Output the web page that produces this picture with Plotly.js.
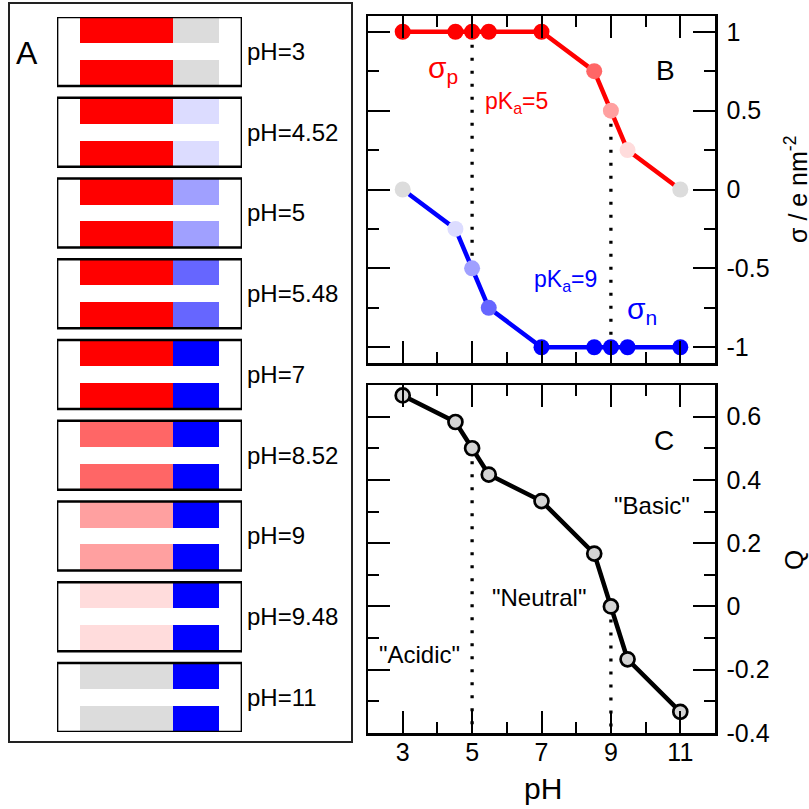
<!DOCTYPE html>
<html><head><meta charset="utf-8">
<script src="https://cdn.plot.ly/plotly-3.0.1.min.js"></script>
<style>html,body{margin:0;padding:0;background:#fff}#chart{width:809px;height:809px}</style>
</head><body><div id="chart"></div>
<script>
// ---- data ----
const pH = [3, 4.52, 5, 5.48, 7, 8.52, 9, 9.48, 11];
const sigmaP = [1, 1, 1, 1, 1, 0.75, 0.5, 0.25, 0];
const sigmaN = [0, -0.25, -0.5, -0.75, -1, -1, -1, -1, -1];
const netQ = [0.667, 0.583, 0.5, 0.417, 0.333, 0.167, 0, -0.167, -0.333];
const stateLabels = ['pH=3','pH=4.52','pH=5','pH=5.48','pH=7','pH=8.52','pH=9','pH=9.48','pH=11'];
const posColors = ['#ff0000','#ff0000','#ff0000','#ff0000','#ff0000','#ff6666','#ffa0a0','#ffdcdc','#dcdcdc'];
const negColors = ['#dcdcdc','#dcdcff','#a0a0ff','#6666ff','#0000ff','#0000ff','#0000ff','#0000ff','#0000ff'];
const posShare = 2, negShare = 1;
const pKa = [5, 9];
const pKaTopB = [1, 0.5], pKaBotB = [-0.5, -1];
const pKaTopC = [0.5, 0], pKaBotC = [-0.4, -0.4];
const xTickVals = [3,5,7,9,11], xTickText = ['3','5','7','9','11'], xMinor = [4,6,8,10];
const bTickVals = [-1,-0.5,0,0.5,1], bTickText = ['-1','-0.5','0','0.5','1'], bMinor = [-0.75,-0.25,0.25,0.75];
const cTickVals = [-0.4,-0.2,0,0.2,0.4,0.6], cTickText = ['-0.4','-0.2','0','0.2','0.4','0.6'], cMinor = [-0.3,-0.1,0.1,0.3,0.5];

// ---- layout helpers ----
const W = 809;
const px = v => v / W, py = v => 1 - v / W;
const FONT = 'Liberation Sans, Arial, Helvetica, sans-serif';

const rowOff = 0.266, rowThick = 0.322, boxThick = 0.8545, boxPad = 0.5;
const rowY = [], rowPos = [], rowNeg = [];
pH.forEach((v, i) => {
  [i - rowOff, i + rowOff].forEach(y => { rowY.push(y); rowPos.push(posColors[i]); rowNeg.push(negColors[i]); });
});
const boxY = pH.map((v, i) => i);

function vlines(xs, tops, bots) {
  const x = [], y = [];
  xs.forEach((v, i) => { x.push(v, v, null); y.push(tops[i], bots[i], null); });
  return {x, y};
}
const dB = vlines(pKa, pKaTopB, pKaBotB);
const dC = vlines(pKa, pKaTopC, pKaBotC);
const dotLine = {color:'#000', width:3.3, dash:'3px,10px'};

const traces = [
  {type:'bar', orientation:'h', xaxis:'x3', yaxis:'y3', y:rowY, x:rowY.map(() => posShare), base:0,
   width:rowThick, marker:{color:rowPos, line:{width:0}}, hoverinfo:'skip'},
  {type:'bar', orientation:'h', xaxis:'x3', yaxis:'y3', y:rowY, x:rowY.map(() => negShare), base:posShare,
   width:rowThick, marker:{color:rowNeg, line:{width:0}}, hoverinfo:'skip'},
  {type:'bar', orientation:'h', xaxis:'x3', yaxis:'y3', y:boxY, x:boxY.map(() => posShare + negShare + 2*boxPad), base:-boxPad,
   width:boxThick, marker:{color:'rgba(0,0,0,0)', line:{color:'#000', width:2.7}}, hoverinfo:'skip'},

  {type:'scatter', mode:'lines', xaxis:'x2', yaxis:'y2', x:dB.x, y:dB.y, line:dotLine, hoverinfo:'skip'},
  {type:'scatter', mode:'lines+markers', xaxis:'x2', yaxis:'y2', x:pH, y:sigmaP, cliponaxis:false,
   line:{color:'#ff0000', width:4.5}, marker:{size:16, color:posColors, line:{width:0}}},
  {type:'scatter', mode:'lines+markers', xaxis:'x2', yaxis:'y2', x:pH, y:sigmaN, cliponaxis:false,
   line:{color:'#0000ff', width:4.5}, marker:{size:16, color:negColors, line:{width:0}}},

  {type:'scatter', mode:'lines', xaxis:'x', yaxis:'y', x:dC.x, y:dC.y, line:dotLine, hoverinfo:'skip'},
  {type:'scatter', mode:'lines+markers', xaxis:'x', yaxis:'y', x:pH, y:netQ, cliponaxis:false,
   line:{color:'#000', width:4.5}, marker:{size:14, color:'#d4d4d4', line:{color:'#000', width:2.7}}}
];

const common = {showline:true, linecolor:'#000', linewidth:2.5, mirror:'ticks', ticks:'inside', ticklen:22,
  tickwidth:2, tickcolor:'#000', showgrid:false, zeroline:false, tickmode:'array',
  tickfont:{family:FONT, size:25, color:'#000'}};
const minorCommon = {ticks:'inside', ticklen:11, tickwidth:2, tickcolor:'#000', tickmode:'array'};

function ann(o) { return Object.assign({showarrow:false, xanchor:'center', yanchor:'middle'}, o); }

const layout = {
  width:809, height:809, margin:{l:0, r:0, t:0, b:0}, showlegend:false,
  paper_bgcolor:'#fff', plot_bgcolor:'rgba(0,0,0,0)', barmode:'overlay', bargap:0,
  font:{family:FONT, color:'#000'},
  xaxis:Object.assign({}, common, {domain:[px(368), px(715)], range:[2,12], anchor:'y',
    tickvals:xTickVals, ticktext:xTickText, minor:Object.assign({tickvals:xMinor}, minorCommon), ticklabelstandoff:-5}),
  xaxis2:Object.assign({}, common, {domain:[px(368), px(715)], range:[2,12], anchor:'y2', showticklabels:false,
    tickvals:xTickVals, ticktext:xTickText, minor:Object.assign({tickvals:xMinor}, minorCommon)}),
  yaxis:Object.assign({}, common, {domain:[py(733), py(385)], range:[-0.4,0.7], anchor:'x', side:'right',
    tickvals:cTickVals, ticktext:cTickText, minor:Object.assign({tickvals:cMinor}, minorCommon), ticklabelstandoff:4}),
  yaxis2:Object.assign({}, common, {domain:[py(363), py(16)], range:[-1.1,1.1], anchor:'x2', side:'right',
    tickvals:bTickVals, ticktext:bTickText, minor:Object.assign({tickvals:bMinor}, minorCommon), ticklabelstandoff:4}),
  xaxis3:{domain:[px(57), px(242)], range:[-boxPad, posShare + negShare + boxPad], anchor:'y3', visible:false, fixedrange:true},
  yaxis3:{domain:[py(732), py(17)], range:[pH.length - 1 + boxThick/2, -boxThick/2], anchor:'x3', side:'right',
    showline:false, showgrid:false, zeroline:false, ticks:'', tickmode:'array', tickvals:boxY, ticktext:stateLabels,
    tickfont:{family:FONT, size:24, color:'#000'}, ticklabelstandoff:4},
  shapes:[
    {type:'rect', xref:'paper', yref:'paper', x0:px(9), x1:px(352), y0:py(742), y1:py(3), line:{color:'#222', width:2}}
  ],
  annotations:[
    ann({xref:'paper', yref:'paper', x:px(27), y:py(53), text:'A', font:{size:32}}),
    ann({xref:'paper', yref:'paper', x:px(543), y:py(788), text:'pH', font:{size:30}}),
    ann({xref:'paper', yref:'paper', x:px(796), y:py(190), text:'σ / e nm<sup>-2</sup>', textangle:-90, font:{size:25}}),
    ann({xref:'paper', yref:'paper', x:px(794), y:py(560), text:'Q', textangle:-90, font:{size:26}}),
    ann({xref:'x2', yref:'y2', x:10.57, y:0.752, text:'B', font:{size:28}}),
    ann({xref:'x2', yref:'y2', x:4.17, y:0.76, text:'σ<sub>p</sub>', font:{size:30, color:'#ff0000'}}),
    ann({xref:'x2', yref:'y2', x:6.27, y:0.55, text:'pK<sub>a</sub>=5', font:{size:23, color:'#ff0000'}}),
    ann({xref:'x2', yref:'y2', x:7.68, y:-0.58, text:'pK<sub>a</sub>=9', font:{size:23, color:'#0000ff'}}),
    ann({xref:'x2', yref:'y2', x:9.89, y:-0.77, text:'σ<sub>n</sub>', font:{size:30, color:'#0000ff'}}),
    ann({xref:'x', yref:'y', x:10.54, y:0.525, text:'C', font:{size:28}}),
    ann({xref:'x', yref:'y', x:10.19, y:0.319, text:'"Basic"', font:{size:24}}),
    ann({xref:'x', yref:'y', x:6.92, y:0.029, text:'"Neutral"', font:{size:24}}),
    ann({xref:'x', yref:'y', x:3.48, y:-0.151, text:'"Acidic"', font:{size:24}})
  ]
};

Plotly.newPlot('chart', traces, layout, {displayModeBar:false, staticPlot:true});
</script>
</body></html>
